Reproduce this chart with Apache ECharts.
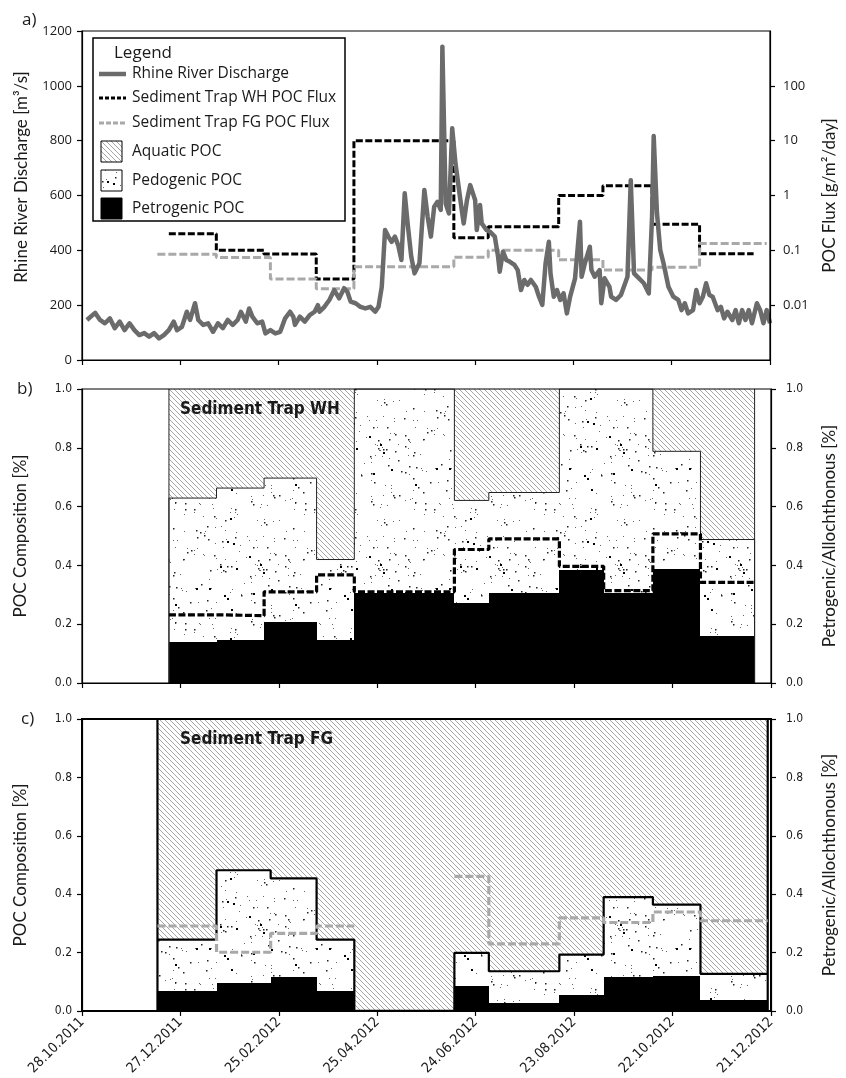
<!DOCTYPE html>
<html><head><meta charset="utf-8">
<script src="https://cdn.jsdelivr.net/npm/echarts@6/dist/echarts.min.js"></script>
<style>html,body{margin:0;padding:0;background:#fff}#chart{width:846px;height:1078px}</style>
</head><body><div id="chart"></div>
<script>
// ---------------- data ----------------
const startDate = '2011-10-28';
const xTickLabels = ['28.10.2011','27.12.2011','25.02.2012','25.04.2012','24.06.2012','23.08.2012','22.10.2012','21.12.2012'];
const fluxTicks = [0.01, 0.1, 1, 10, 100];

// Rhine discharge (days after 28.10.2011, m3/s)
const dischargeDays = [3,8,11,14,17,20,23,26,29,32,35,38,41,44,47,50,53,56,58,61,64,66,69,71,74,77,80,83,86,89,92,95,97,100,102,104,107,110,112,115,118,121,124,127,129,130,133,136,139,142,144,145,148,151,154,157,160,162,164,167,170,173,176,179,181,183,185,187,189,191,193,195,197,199,201,203,206,209,211,213,215,217,219,220,222,224,226,228,231,233,235,237,240,241,243,244,247,249,252,254,255,257,259,261,264,266,268,270,272,274,277,279,281,283,285,286,288,290,292,294,296,298,301,304,305,307,310,311,313,316,317,319,322,323,326,329,333,335,337,339,343,346,348,349,351,353,355,358,361,364,366,368,370,373,375,377,379,381,383,385,388,390,392,394,397,399,401,403,405,407,409,412,414,416,418,420];
const dischargeValues = [146,172,146,134,152,116,140,109,134,109,91,98,85,98,79,91,109,140,109,121,176,146,207,146,128,134,103,134,116,146,128,146,176,140,188,158,134,140,97,109,97,103,152,176,158,128,158,140,164,176,200,176,194,219,255,225,262,249,213,207,194,188,194,176,194,267,474,450,431,450,419,365,608,486,377,316,353,620,523,450,559,577,547,1143,571,535,845,717,583,498,583,638,583,474,565,498,474,468,450,377,322,395,365,359,347,328,255,292,274,292,267,231,201,353,431,316,231,255,219,243,170,231,298,504,304,353,413,328,304,328,207,298,267,231,219,237,304,656,316,304,280,243,523,817,535,401,353,267,231,219,182,207,170,182,255,207,231,280,237,231,182,194,152,176,146,182,134,182,146,182,134,207,182,134,182,134];

// Sediment trap WH: sampling interval bounds and values
const whBounds = ['2011-12-20','2012-01-18','2012-02-16','2012-03-19','2012-04-11','2012-06-11','2012-07-02','2012-08-14','2012-09-10','2012-10-10','2012-11-08','2012-12-11'];
const whFlux = [0.2, 0.1, 0.086, 0.03, 10, 0.17, 0.27, 1.0, 1.5, 0.3, 0.087];
const whPetrogenic = [0.14, 0.145, 0.206, 0.147, 0.305, 0.271, 0.306, 0.385, 0.306, 0.388, 0.159];
const whPedogenic = [0.489, 0.518, 0.491, 0.273, 0.695, 0.35, 0.342, 0.615, 0.694, 0.4, 0.329];
const whAquatic = [0.371, 0.337, 0.303, 0.58, 0, 0.379, 0.352, 0, 0, 0.212, 0.512];
const whRatio = [0.232, 0.229, 0.31, 0.368, 0.31, 0.454, 0.49, 0.397, 0.314, 0.507, 0.342];

// Sediment trap FG
const fgBounds = ['2011-12-13','2012-01-18','2012-02-20','2012-03-19','2012-04-11','2012-06-11','2012-07-02','2012-08-14','2012-09-10','2012-10-10','2012-11-08','2012-12-19'];
const fgFlux = [0.085, 0.074, 0.03, 0.02, 0.05, 0.075, 0.1, 0.067, 0.044, 0.049, 0.133];
const fgPetrogenic = [0.07, 0.096, 0.115, 0.07, 0, 0.087, 0.028, 0.056, 0.117, 0.12, 0.036];
const fgPedogenic = [0.174, 0.386, 0.339, 0.174, 0, 0.112, 0.108, 0.137, 0.273, 0.244, 0.091];
const fgAquatic = [0.756, 0.518, 0.546, 0.756, 1, 0.801, 0.864, 0.807, 0.61, 0.636, 0.873];
const fgRatio = [0.291, 0.201, 0.266, 0.291, null, 0.461, 0.23, 0.319, 0.303, 0.339, 0.309];

// ---------------- helpers ----------------
const DAY = 86400000;
const t0 = Date.parse(startDate + 'T00:00:00Z');
const dayOf = s => Math.round((Date.parse(s + 'T00:00:00Z') - t0) / DAY);

function makeHatch() {
  const n = 20, sp = 5, c = document.createElement('canvas');
  c.width = c.height = n;
  const g = c.getContext('2d');
  g.fillStyle = '#fff'; g.fillRect(0, 0, n, n);
  g.strokeStyle = '#8f8f8f'; g.lineWidth = 0.8;
  for (let k = -n; k <= 2 * n; k += sp) { g.beginPath(); g.moveTo(k, 0); g.lineTo(k + n, n); g.stroke(); }
  return c;
}
// stipple texture (deterministic hash, texture only – not data)
function makeDots() {
  const n = 120, c = document.createElement('canvas');
  c.width = c.height = n;
  const g = c.getContext('2d');
  g.fillStyle = '#fff'; g.fillRect(0, 0, n, n);
  let a = 917;
  const h = () => { a = (a + 0x6D2B79F5) | 0; let t = Math.imul(a ^ (a >>> 15), 1 | a); t = (t + Math.imul(t ^ (t >>> 7), 61 | t)) ^ t; return ((t ^ (t >>> 14)) >>> 0) / 4294967296; };
  for (let i = 0; i < 190; i++) {
    const x = Math.floor(h() * n), y = Math.floor(h() * n), r = h();
    if (r < 0.1) { g.fillStyle = '#000'; g.fillRect(x, y, 2, 2); }
    else if (r < 0.4) { g.fillStyle = '#222'; g.fillRect(x, y, 1.5, 1.5); }
    else { g.fillStyle = '#666'; g.fillRect(x, y, 1, 1); }
  }
  return c;
}
const hatchPattern = { image: makeHatch(), repeat: 'repeat' };
const dotPattern = { image: makeDots(), repeat: 'repeat' };

function stepSegments(bounds, vals) {
  const b = bounds.map(dayOf), segs = []; let cur = null;
  vals.forEach((v, i) => {
    if (v == null) { cur = null; return; }
    if (!cur) { cur = []; segs.push(cur); }
    cur.push([b[i], v]);
    if (i === vals.length - 1 || vals[i + 1] == null) cur.push([b[i + 1], v]);
  });
  return segs;
}
function outline(bounds, petro, pedo) {
  const b = bounds.map(dayOf), n = petro.length;
  const top = petro.map((p, i) => +(p + pedo[i]).toFixed(4));
  const pts = [[b[0], 1], [b[0], 0]];
  top.forEach((t, i) => pts.push([b[i], t]));
  pts.push([b[n], top[n - 1]], [b[n], 0], [b[n], 1]);
  return pts;
}
function fillSeries(bounds, petro, pedo, aqua, gi) {
  const b = bounds.map(dayOf);
  const data = petro.map((p, i) => [b[i], b[i + 1], p, pedo[i], aqua[i]]);
  return {
    type: 'custom', xAxisIndex: gi, yAxisIndex: gi === 1 ? 2 : 4, silent: true, clip: true, z: 2,
    encode: { x: [0, 1], y: [2] },
    renderItem(params, api) {
      const x0 = api.value(0), x1 = api.value(1), p = api.value(2), d = api.value(3), a = api.value(4);
      const L = Math.round(api.coord([x0, 0])[0]), R = Math.round(api.coord([x1, 0])[0]);
      const Y = v => Math.round(api.coord([x0, v])[1]);
      const y0 = Y(0), yp = Y(p), yd = Y(p + d), ya = Y(p + d + a);
      const ch = [];
      if (p > 0) ch.push({ type: 'rect', shape: { x: L, y: yp, width: R - L, height: y0 - yp }, style: { fill: '#000' } });
      if (d > 0) ch.push({ type: 'rect', shape: { x: L, y: yd, width: R - L, height: yp - yd }, style: { fill: dotPattern } });
      if (a > 0) ch.push({ type: 'rect', shape: { x: L, y: ya, width: R - L, height: yd - ya }, style: { fill: hatchPattern } });
      return { type: 'group', children: ch };
    },
    data
  };
}
function lineSeries(data, xi, yi, color, width, dash, z) {
  return { type: 'line', xAxisIndex: xi, yAxisIndex: yi, step: 'end', showSymbol: false, silent: true, z: z,
    lineStyle: { color: color, width: width, type: dash || 'solid', cap: 'butt' }, data: data };
}

// ---------------- axes ----------------
const AX = { color: '#000', width: 1.2 };
const numFont = 'Open Sans';
const condFont = 'DejaVu Sans Condensed';
const titleStyle = { fontFamily: 'Lato', fontSize: 17, color: '#1a1a1a' };
function xAxis(gi, labels) {
  return { type: 'value', gridIndex: gi, min: 0, max: 420, interval: 60, z: 6,
    axisLine: { show: true, onZero: false, lineStyle: AX },
    axisTick: { show: true, inside: false, length: 5, lineStyle: AX },
    splitLine: { show: false },
    axisLabel: labels ? { show: true, rotate: 45, margin: 9, fontFamily: condFont, fontSize: 14, color: '#1a1a1a',
      formatter: v => xTickLabels[Math.round(v / 60)] } : { show: false } };
}
function fracAxis(gi, pos, name, gap) {
  return { type: 'value', gridIndex: gi, position: pos, min: 0, max: 1, interval: 0.2, z: 6,
    name: name, nameLocation: 'middle', nameRotate: 90, nameGap: gap, nameTextStyle: titleStyle,
    axisLine: { show: true, lineStyle: AX }, axisTick: { show: true, inside: false, length: 5, lineStyle: AX },
    splitLine: { show: false },
    axisLabel: { margin: pos === 'left' ? 10 : 15, fontFamily: condFont, fontSize: 12, color: '#1a1a1a', formatter: v => v.toFixed(1) } };
}

const whSegs = stepSegments(whBounds, whFlux);
const fgSegs = stepSegments(fgBounds, fgFlux);
const whRatioSegs = stepSegments(whBounds, whRatio);
const fgRatioSegs = stepSegments(fgBounds, fgRatio);

const series = [];
// panel a
whSegs.forEach(s => series.push(lineSeries(s, 0, 1, '#000', 3, [7, 2.5], 3)));
fgSegs.forEach(s => series.push(lineSeries(s, 0, 1, '#a9a9a9', 3, [8, 3], 3)));
series.push({ type: 'line', xAxisIndex: 0, yAxisIndex: 0, showSymbol: false, silent: true, z: 4,
  lineStyle: { color: '#6b6b6b', width: 4.5, join: 'round' },
  data: dischargeDays.map((d, i) => [d, dischargeValues[i]]) });
// panel b
series.push(fillSeries(whBounds, whPetrogenic, whPedogenic, whAquatic, 1));
series.push(lineSeries(outline(whBounds, whPetrogenic, whPedogenic), 1, 2, '#222', 1, 'solid', 3));
whRatioSegs.forEach(s => series.push(lineSeries(s, 1, 3, '#000', 3.2, [7, 2.5], 4)));
// panel c
series.push(fillSeries(fgBounds, fgPetrogenic, fgPedogenic, fgAquatic, 2));
series.push(lineSeries(outline(fgBounds, fgPetrogenic, fgPedogenic), 2, 4, '#000', 2.2, 'solid', 3));
fgRatioSegs.forEach(s => series.push(lineSeries(s, 2, 5, '#a9a9a9', 3.2, [8, 3], 4)));

// ---------------- legend & labels (graphic) ----------------
const legFont = '15.5px "Open Sans"';
const txt = (x, y, t, font, extra) => Object.assign({ type: 'text', x: x, y: y, z: 30,
  style: { text: t, font: font, fill: '#1a1a1a', align: 'left', verticalAlign: 'middle', textAlign: 'left', textVerticalAlign: 'middle' } }, extra || {});
const graphic = [
  { type: 'rect', z: 20, shape: { x: 93, y: 38, width: 252, height: 183 }, style: { fill: '#fff', stroke: '#000', lineWidth: 1.5 } },
  txt(114, 53, 'Legend', '17px "Open Sans"'),
  { type: 'line', z: 30, shape: { x1: 99, y1: 74, x2: 126, y2: 74 }, style: { stroke: '#6b6b6b', lineWidth: 4.5 } },
  txt(132, 74, 'Rhine River Discharge', legFont),
  { type: 'line', z: 30, shape: { x1: 99, y1: 98, x2: 126, y2: 98 }, style: { stroke: '#000', lineWidth: 3, lineDash: [4, 2] } },
  txt(132, 98, 'Sediment Trap WH POC Flux', legFont),
  { type: 'line', z: 30, shape: { x1: 99, y1: 123, x2: 126, y2: 123 }, style: { stroke: '#a9a9a9', lineWidth: 3, lineDash: [5, 2] } },
  txt(132, 123, 'Sediment Trap FG POC Flux', legFont),
  { type: 'rect', z: 30, shape: { x: 101, y: 141, width: 21, height: 21 }, style: { fill: hatchPattern, stroke: '#000', lineWidth: 1 } },
  txt(132, 152, 'Aquatic POC', legFont),
  { type: 'rect', z: 30, shape: { x: 101, y: 170, width: 21, height: 21 }, style: { fill: dotPattern, stroke: '#000', lineWidth: 1 } },
  txt(132, 181, 'Pedogenic POC', legFont),
  { type: 'rect', z: 30, shape: { x: 101, y: 198, width: 21, height: 21 }, style: { fill: '#000', stroke: '#000', lineWidth: 1 } },
  txt(132, 209, 'Petrogenic POC', legFont),
  { type: 'text', z: 30, x: 22, y: 177, rotation: Math.PI / 2,
    style: { text: 'Rhine River Discharge [m³/s]', font: '17px Lato', fill: '#1a1a1a', align: 'center', verticalAlign: 'middle', textAlign: 'center', textVerticalAlign: 'middle' } },
  txt(22, 20, 'a)', '17px "Open Sans"'),
  txt(17, 389, 'b)', '17px "Open Sans"'),
  txt(21, 719, 'c)', '17px "Open Sans"'),
  txt(180, 410, 'Sediment Trap WH', 'bold 17px "DejaVu Sans Condensed"'),
  txt(180, 740, 'Sediment Trap FG', 'bold 17px "DejaVu Sans Condensed"')
];

const chart = echarts.init(document.getElementById('chart'), null, { renderer: 'canvas' });
chart.setOption({
  animation: false,
  backgroundColor: '#fff',
  grid: [
    { left: 82, right: 68, top: 31, height: 329, show: true, z: 6, borderColor: '#000', borderWidth: 1.2, backgroundColor: 'transparent' },
    { left: 82, right: 68, top: 389, height: 294, show: true, z: 6, borderColor: '#000', borderWidth: 1.2, backgroundColor: 'transparent' },
    { left: 82, right: 68, top: 719, height: 297, show: true, z: 6, borderColor: '#000', borderWidth: 2, backgroundColor: 'transparent' }
  ],
  xAxis: [xAxis(0, false), xAxis(1, false), xAxis(2, true)],
  yAxis: [
    { type: 'value', gridIndex: 0, position: 'left', min: 0, max: 1200, interval: 200, z: 6,
      axisLine: { show: true, lineStyle: AX }, axisTick: { show: true, length: 5, lineStyle: AX }, splitLine: { show: false },
      axisLabel: { margin: 10, fontFamily: numFont, fontSize: 13, color: '#1a1a1a', formatter: v => String(v) } },
    { type: 'log', gridIndex: 0, position: 'right', logBase: 10, min: 0.001, max: 1000, z: 6,
      name: 'POC Flux [g/m²/day]', nameLocation: 'middle', nameRotate: 90, nameGap: 51, nameTextStyle: titleStyle,
      axisLine: { show: true, lineStyle: AX },
      axisTick: { show: true, length: 5, lineStyle: AX, customValues: fluxTicks },
      splitLine: { show: false }, minorTick: { show: false },
      axisLabel: { margin: 13, fontFamily: numFont, fontSize: 13, color: '#1a1a1a', customValues: fluxTicks,
        formatter: v => (v >= 1 ? String(Math.round(v)) : String(+(+v).toPrecision(2))) } },
    fracAxis(1, 'left', 'POC Composition [%]', 53),
    fracAxis(1, 'right', 'Petrogenic/Allochthonous [%]', 50),
    fracAxis(2, 'left', 'POC Composition [%]', 53),
    fracAxis(2, 'right', 'Petrogenic/Allochthonous [%]', 50)
  ],
  series: series,
  graphic: graphic
});
</script>
</body></html>
